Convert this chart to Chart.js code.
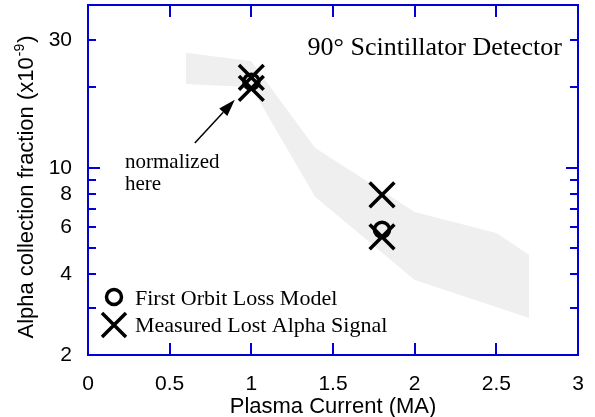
<!DOCTYPE html>
<html>
<head>
<meta charset="utf-8">
<script src="https://cdn.jsdelivr.net/npm/chart.js@4/dist/chart.umd.min.js"></script>
<style>
  html, body { margin: 0; padding: 0; background: #fff; }
  #chart { display: block; }
</style>
</head>
<body>
<canvas id="chart" width="595" height="417"></canvas>
<script>
// ----- Data -----
const bandX = [0.6, 1.0, 1.39, 2.0, 2.5, 2.7];
const bandLow = [20.6, 20.0, 7.8, 3.81, 3.02, 2.75];
const bandHigh = [26.9, 25.0, 11.9, 6.85, 5.71, 4.73];

const modelX = [1.0, 1.8];
const modelY = [21.0, 5.87];

const measuredX = [1.0, 1.0, 1.8, 1.8];
const measuredY = [21.8, 19.8, 7.93, 5.52];

const yTickValues = [2, 3, 4, 5, 6, 7, 8, 9, 10, 20, 30];
const yTickLabels = [2, 4, 6, 8, 10, 30];
const xTickValues = [0.5, 1, 1.5, 2, 2.5];

// arrow "normalized here" (data coords)
const arrowFrom = { x: 0.654, y: 12.4 };
const arrowTo = { x: 0.899, y: 17.96 };

const BLUE = 'rgb(0,0,215)';
const SANS = '"Liberation Sans", Arial, sans-serif';
const SERIF = '"Liberation Serif", "Times New Roman", serif';

// plot box in the page
const AREA = { left: 88, top: 5, right: 578, bottom: 355 };

function pts(xs, ys) { return xs.map((x, i) => ({ x, y: ys[i] })); }

// pin the plot box so the scales land where the original has them
const pinAreaPlugin = {
  id: 'pinArea',
  afterLayout(chart) {
    const a = chart.chartArea;
    Object.assign(a, AREA);
    a.width = AREA.right - AREA.left;
    a.height = AREA.bottom - AREA.top;
    const xs = chart.scales.x, ys = chart.scales.y;
    xs.left = AREA.left; xs.right = AREA.right; xs.width = a.width;
    xs.top = AREA.bottom; xs.bottom = chart.height; xs.height = chart.height - AREA.bottom;
    xs.configure();
    ys.left = 0; ys.right = AREA.left; ys.width = AREA.left;
    ys.top = AREA.top; ys.bottom = AREA.bottom; ys.height = a.height;
    ys.configure();
  }
};

// ----- Decorations: frame, ticks, texts, legend, arrow -----
const decorPlugin = {
  id: 'decor',
  afterDraw(chart) {
    const { ctx, chartArea: a, scales } = chart;
    const xs = scales.x, ys = scales.y;
    ctx.save();

    // frame
    ctx.strokeStyle = BLUE;
    ctx.lineWidth = 2;
    ctx.strokeRect(a.left, a.top, a.right - a.left, a.bottom - a.top);

    // inward ticks
    ctx.beginPath();
    xTickValues.forEach(v => {
      const px = Math.round(xs.getPixelForValue(v));
      ctx.moveTo(px, a.bottom); ctx.lineTo(px, a.bottom - 12);
      ctx.moveTo(px, a.top); ctx.lineTo(px, a.top + 12);
    });
    yTickValues.forEach(v => {
      const py = Math.round(ys.getPixelForValue(v));
      const len = v === 10 ? 12 : 8;
      ctx.moveTo(a.left, py); ctx.lineTo(a.left + len, py);
      ctx.moveTo(a.right, py); ctx.lineTo(a.right - len, py);
    });
    ctx.stroke();

    // title inside
    ctx.fillStyle = '#000';
    ctx.font = '26px ' + SERIF;
    ctx.textAlign = 'right';
    ctx.textBaseline = 'alphabetic';
    ctx.fillText('90\u00b0 Scintillator Detector', 562, 55);

    // annotation text
    ctx.font = '21px ' + SERIF;
    ctx.textAlign = 'left';
    ctx.fillText('normalized', 125, 168);
    ctx.fillText('here', 125, 190);

    // arrow
    const x0 = xs.getPixelForValue(arrowFrom.x), y0 = ys.getPixelForValue(arrowFrom.y);
    const x1 = xs.getPixelForValue(arrowTo.x), y1 = ys.getPixelForValue(arrowTo.y);
    const ang = Math.atan2(y1 - y0, x1 - x0);
    const hl = 17, hw = 5.5;
    const bx = x1 - hl * Math.cos(ang), by = y1 - hl * Math.sin(ang);
    ctx.strokeStyle = '#000';
    ctx.lineWidth = 1.5;
    ctx.beginPath();
    ctx.moveTo(x0, y0); ctx.lineTo(bx, by);
    ctx.stroke();
    ctx.beginPath();
    ctx.moveTo(x1, y1);
    ctx.lineTo(bx + hw * Math.sin(ang), by - hw * Math.cos(ang));
    ctx.lineTo(bx - hw * Math.sin(ang), by + hw * Math.cos(ang));
    ctx.closePath();
    ctx.fillStyle = '#000';
    ctx.fill();

    // legend
    ctx.lineWidth = 3.5;
    ctx.beginPath();
    ctx.arc(114, 297, 7.5, 0, Math.PI * 2);
    ctx.stroke();
    ctx.beginPath();
    ctx.moveTo(102, 313); ctx.lineTo(126, 337);
    ctx.moveTo(126, 313); ctx.lineTo(102, 337);
    ctx.stroke();
    ctx.font = '22px ' + SERIF;
    ctx.textBaseline = 'alphabetic';
    ctx.fillText('First Orbit Loss Model', 135, 305);
    ctx.fillText('Measured Lost Alpha Signal', 135, 332);

    // x axis title
    ctx.font = '22px ' + SANS;
    ctx.textAlign = 'center';
    ctx.fillText('Plasma Current (MA)', (a.left + a.right) / 2, 413);

    // y axis title with superscript
    const main = 'Alpha collection fraction (x10';
    const sup = '-9';
    const tail = ')';
    ctx.font = '22px ' + SANS;
    const wMain = ctx.measureText(main).width;
    const wTail = ctx.measureText(tail).width;
    ctx.font = '14px ' + SANS;
    const wSup = ctx.measureText(sup).width + 2;
    const total = wMain + wSup + wTail;
    ctx.translate(33, 187);
    ctx.rotate(-Math.PI / 2);
    ctx.textAlign = 'left';
    let cx = -total / 2;
    ctx.font = '22px ' + SANS;
    ctx.fillText(main, cx, 0);
    cx += wMain;
    ctx.font = '14px ' + SANS;
    ctx.fillText(sup, cx + 1, -9);
    cx += wSup;
    ctx.font = '22px ' + SANS;
    ctx.fillText(tail, cx, 0);

    ctx.restore();
  }
};

const ctx = document.getElementById('chart').getContext('2d');
new Chart(ctx, {
  type: 'scatter',
  data: {
    datasets: [
      {
        type: 'line',
        label: 'band low',
        data: pts(bandX, bandLow),
        order: 10,
        borderWidth: 0,
        pointRadius: 0,
        tension: 0,
        fill: false,
        backgroundColor: '#efefef',
      },
      {
        type: 'line',
        label: 'band high',
        data: pts(bandX, bandHigh),
        order: 10,
        borderWidth: 0,
        pointRadius: 0,
        tension: 0,
        fill: '-1',
        backgroundColor: '#efefef',
      },
      {
        label: 'First Orbit Loss Model',
        data: pts(modelX, modelY),
        order: 1,
        pointStyle: 'circle',
        pointRadius: 7.5,
        borderWidth: 3.5,
        borderColor: '#000',
        backgroundColor: 'rgba(0,0,0,0)',
      },
      {
        label: 'Measured Lost Alpha Signal',
        data: pts(measuredX, measuredY),
        order: 0,
        pointStyle: 'crossRot',
        pointRadius: 17.5,
        borderWidth: 3.5,
        borderColor: '#000',
        backgroundColor: '#000',
      },
    ],
  },
  options: {
    responsive: false,
    animation: false,
    events: [],
    layout: { padding: { top: 5, right: 17, left: 0, bottom: 0 } },
    plugins: {
      legend: { display: false },
      tooltip: { enabled: false },
    },
    scales: {
      x: {
        type: 'linear',
        min: 0,
        max: 3,
        afterFit: (s) => { s.height = 62; },
        grid: { display: false, drawTicks: false },
        border: { display: false },
        ticks: {
          stepSize: 0.5,
          color: '#000',
          font: { family: SANS, size: 21 },
          padding: 17,
          maxRotation: 0,
          callback: (v) => String(v),
        },
      },
      y: {
        type: 'logarithmic',
        min: 2,
        max: 40.6,
        afterFit: (s) => { s.width = 88; },
        afterBuildTicks: (s) => { s.ticks = yTickValues.map(v => ({ value: v })); },
        grid: { display: false, drawTicks: false },
        border: { display: false },
        ticks: {
          color: '#000',
          font: { family: SANS, size: 21 },
          padding: 16,
          autoSkip: false,
          callback: (v) => yTickLabels.includes(v) ? String(v) : '',
        },
      },
    },
  },
  plugins: [pinAreaPlugin, decorPlugin],
});
</script>
</body>
</html>
